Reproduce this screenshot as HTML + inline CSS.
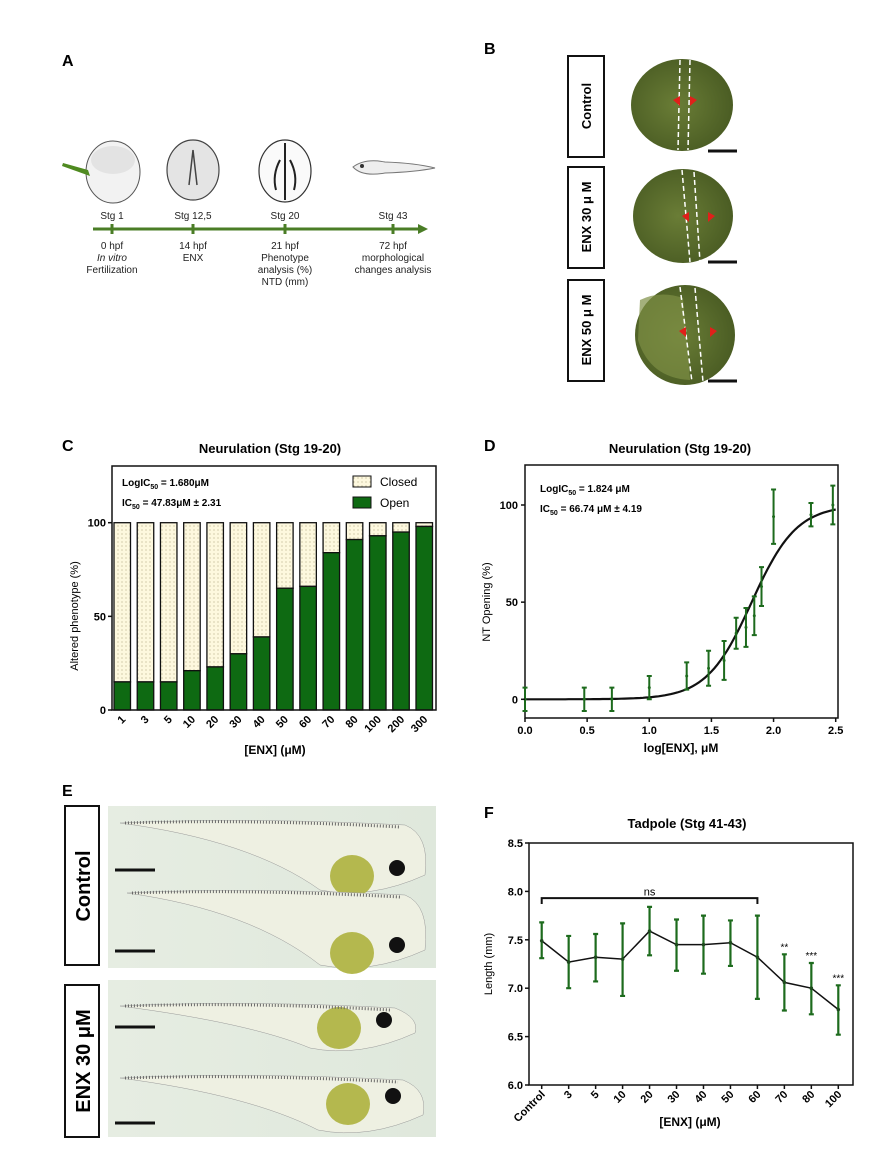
<!DOCTYPE html>
<html><head><meta charset="utf-8"><style>
html,body{margin:0;padding:0;background:#fff}
svg{display:block;font-family:"Liberation Sans",sans-serif}
</style></head><body>
<svg id="fig" width="880" height="1161" viewBox="0 0 880 1161" xmlns="http://www.w3.org/2000/svg">
<defs>
<pattern id="dots" width="4" height="4" patternUnits="userSpaceOnUse"><rect width="4" height="4" fill="#fdf8de"/><circle cx="2" cy="2" r="0.6" fill="#b8b08a"/></pattern>
<radialGradient id="emb" cx="0.45" cy="0.5" r="0.6"><stop offset="0" stop-color="#6a7d36"/><stop offset="1" stop-color="#485a22"/></radialGradient>
<linearGradient id="photo" x1="0" x2="1"><stop offset="0" stop-color="#e6ede2"/><stop offset="1" stop-color="#dfe8dc"/></linearGradient>
</defs>
<g font-weight="bold" font-size="16">
<text x="62" y="66">A</text>
<text x="484" y="54">B</text>
<text x="62" y="451">C</text>
<text x="484" y="451">D</text>
<text x="62" y="796">E</text>
<text x="484" y="818">F</text>
</g>

<!-- Panel A -->
<g>
<ellipse cx="113" cy="172" rx="27" ry="31" fill="#f2f2f2" stroke="#555" stroke-width="1"/>
<ellipse cx="113" cy="160" rx="22" ry="14" fill="#d8d8d8" opacity="0.6"/>
<path d="M63 163 L88 170 L90 176 L62 166Z" fill="#4f8a20"/>
<ellipse cx="193" cy="170" rx="26" ry="30" fill="#e4e4e4" stroke="#444" stroke-width="1.2"/>
<path d="M193 150 L189 185 M193 150 L197 185" stroke="#444" stroke-width="1.5"/>
<ellipse cx="285" cy="171" rx="26" ry="31" fill="#fafafa" stroke="#333" stroke-width="1.2"/>
<path d="M285 143 L285 200 M280 160 Q272 175 276 190 M290 160 Q298 175 294 190" stroke="#222" stroke-width="2" fill="none"/>
<path d="M353 167 Q365 158 385 162 Q415 163 435 168 Q415 172 385 173 Q362 177 353 167Z" fill="#eee" stroke="#777"/>
<circle cx="362" cy="166" r="2" fill="#333"/>
<line x1="93" y1="229" x2="420" y2="229" stroke="#4a7d26" stroke-width="3"/>
<polygon points="418,224 428,229 418,234" fill="#4a7d26"/>
<g stroke="#4a7d26" stroke-width="3"><line x1="112" y1="224" x2="112" y2="234"/><line x1="193" y1="224" x2="193" y2="234"/><line x1="285" y1="224" x2="285" y2="234"/><line x1="393" y1="224" x2="393" y2="234"/></g>
<g font-size="10" text-anchor="middle" fill="#222">
<text x="112" y="219">Stg 1</text><text x="193" y="219">Stg 12,5</text><text x="285" y="219">Stg 20</text><text x="393" y="219">Stg 43</text>
<text x="112" y="249">0 hpf</text><text x="112" y="261" font-style="italic">In vitro</text><text x="112" y="273">Fertilization</text>
<text x="193" y="249">14 hpf</text><text x="193" y="261">ENX</text>
<text x="285" y="249">21 hpf</text><text x="285" y="261">Phenotype</text><text x="285" y="273">analysis (%)</text><text x="285" y="285">NTD (mm)</text>
<text x="393" y="249">72 hpf</text><text x="393" y="261">morphological</text><text x="393" y="273">changes analysis</text>
</g>
</g>

<!-- Panel B -->
<g>
<g fill="none" stroke="#111" stroke-width="2">
<rect x="568" y="56" width="36" height="101"/>
<rect x="568" y="167" width="36" height="101"/>
<rect x="568" y="280" width="36" height="101"/>
</g>
<g font-size="13" font-weight="bold" text-anchor="middle">
<text transform="translate(591,106) rotate(-90)">Control</text>
<text transform="translate(591,217) rotate(-90)">ENX 30 μ M</text>
<text transform="translate(591,330) rotate(-90)">ENX 50 μ M</text>
</g>
<ellipse cx="682" cy="105" rx="51" ry="46" fill="url(#emb)"/>
<ellipse cx="683" cy="216" rx="50" ry="47" fill="url(#emb)"/>
<ellipse cx="685" cy="335" rx="50" ry="50" fill="url(#emb)"/>
<path d="M640 300 Q660 290 683 298 L690 380 Q650 378 638 340Z" fill="#7d8f45" opacity="0.7"/>
<g stroke="#fff" stroke-width="1.5" stroke-dasharray="5,3" fill="none">
<path d="M680 60 L678 150 M690 60 L688 150"/>
<path d="M682 170 L690 262 M694 172 L700 262"/>
<path d="M680 287 L692 382 M695 288 L703 382"/>
</g>
<g fill="#e0201a">
<polygon points="673,100 680,96 680,106"/><polygon points="697,100 690,96 690,106"/>
<polygon points="682,216 689,212 689,222"/><polygon points="715,216 708,212 708,222"/>
<polygon points="679,331 686,327 686,337"/><polygon points="717,331 710,327 710,337"/>
</g>
<g stroke="#111" stroke-width="3"><line x1="708" y1="151" x2="737" y2="151"/><line x1="708" y1="262" x2="737" y2="262"/><line x1="708" y1="381" x2="737" y2="381"/></g>
</g>

<!-- Panel C -->
<g id="chartC">
<text x="270" y="453" text-anchor="middle" font-size="13" font-weight="bold">Neurulation (Stg 19-20)</text>
<text x="122" y="486" font-size="10" font-weight="bold">LogIC<tspan font-size="7" dy="3">50</tspan><tspan dy="-3"> = 1.680μM</tspan></text>
<text x="122" y="506" font-size="10" font-weight="bold">IC<tspan font-size="7" dy="3">50</tspan><tspan dy="-3"> = 47.83μM ± 2.31</tspan></text>
<rect x="353" y="476" width="18" height="11" fill="url(#dots)" stroke="#111"/>
<text x="380" y="486" font-size="12">Closed</text>
<rect x="353" y="497" width="18" height="11" fill="#0e6a12" stroke="#111"/>
<text x="380" y="507" font-size="12">Open</text>
<text transform="translate(78,616) rotate(-90)" text-anchor="middle" font-size="11">Altered phenotype (%)</text>
<text x="275" y="754" text-anchor="middle" font-size="12" font-weight="bold">[ENX] (μM)</text>
</g>

<!-- Panel D -->
<g id="chartD">
<text x="680" y="453" text-anchor="middle" font-size="13" font-weight="bold">Neurulation (Stg 19-20)</text>
<text x="540" y="492" font-size="10" font-weight="bold">LogIC<tspan font-size="7" dy="3">50</tspan><tspan dy="-3"> = 1.824 μM</tspan></text>
<text x="540" y="512" font-size="10" font-weight="bold">IC<tspan font-size="7" dy="3">50</tspan><tspan dy="-3"> = 66.74 μM ± 4.19</tspan></text>
<text transform="translate(490,602) rotate(-90)" text-anchor="middle" font-size="11">NT Opening (%)</text>
<text x="681" y="752" text-anchor="middle" font-size="12" font-weight="bold">log[ENX], μM</text>
</g>

<!-- Panel E -->
<g>
<rect x="65" y="806" width="34" height="159" fill="none" stroke="#111" stroke-width="2"/>
<rect x="65" y="985" width="34" height="152" fill="none" stroke="#111" stroke-width="2"/>
<text transform="translate(90,886) rotate(-90)" text-anchor="middle" font-size="20" font-weight="bold">Control</text>
<text transform="translate(90,1061) rotate(-90)" text-anchor="middle" font-size="20" font-weight="bold">ENX 30 μM</text>
<rect x="108" y="806" width="328" height="162" fill="url(#photo)"/>
<rect x="108" y="980" width="328" height="157" fill="url(#photo)"/>
<g id="tads"></g>
<g stroke="#111" stroke-width="3">
<line x1="115" y1="870" x2="155" y2="870"/><line x1="115" y1="951" x2="155" y2="951"/>
<line x1="115" y1="1027" x2="155" y2="1027"/><line x1="115" y1="1123" x2="155" y2="1123"/>
</g>
</g>

<!-- Panel F -->
<g id="chartF">
<text x="687" y="828" text-anchor="middle" font-size="13" font-weight="bold">Tadpole (Stg 41-43)</text>
<text transform="translate(492,964) rotate(-90)" text-anchor="middle" font-size="11">Length (mm)</text>
<text x="690" y="1126" text-anchor="middle" font-size="12" font-weight="bold">[ENX] (μM)</text>
</g>
</svg>
<script>
const NS='http://www.w3.org/2000/svg';
function mk(parent,tag,attrs,txt){const e=document.createElementNS(NS,tag);for(const k in attrs)e.setAttribute(k,attrs[k]);if(txt!==undefined)e.textContent=txt;parent.appendChild(e);return e;}

// ---- Panel C data ----
const cCategories=['1','3','5','10','20','30','40','50','60','70','80','100','200','300'];
const cOpen=[15,15,15,21,23,30,39,65,66,84,91,93,95,98];
const cTicks=[0,50,100];
// ---- Panel D data ----
const dLogX=[0,0.477,0.699,1,1.301,1.477,1.602,1.699,1.778,1.845,1.903,2,2.301,2.477];
const dMean=[0,0,0,6,12,16,20,34,37,43,58,94,95,100];
const dErr=[6,6,6,6,7,9,10,8,10,10,10,14,6,10];
const dLogIC50=[1.824];
const dHill=[2.4];
const dXTicks=[0,0.5,1.0,1.5,2.0,2.5];
const dYTicks=[0,50,100];
// ---- Panel F data ----
const fCategories=['Control','3','5','10','20','30','40','50','60','70','80','100'];
const fMean=[7.49,7.27,7.32,7.30,7.59,7.45,7.45,7.47,7.32,7.06,7.00,6.78];
const fUpper=[7.68,7.54,7.56,7.67,7.84,7.71,7.75,7.70,7.75,7.35,7.26,7.03];
const fLower=[7.31,7.00,7.07,6.92,7.34,7.18,7.15,7.23,6.89,6.77,6.73,6.52];
const fStars=['','','','','','','','','','**','***','***'];
const fYTicks=[6.0,6.5,7.0,7.5,8.0,8.5];

// Panel C
(function(){
const g=document.getElementById('chartC');
const L=112,R=436,T=466,B=710;
const y=v=>B-(v/100)*187.3;
const x0=114,pitch=(416-114)/13,bw=16.5;
cCategories.forEach((c,i)=>{
 const x=x0+i*pitch;
 const cl=mk(g,'rect',{x:x,y:y(100),width:bw,height:y(cOpen[i])-y(100),fill:'url(#dots)',stroke:'#111','stroke-width':1.3});
 
 
 const op=mk(g,'rect',{x:x,y:y(cOpen[i]),width:bw,height:B-y(cOpen[i]),fill:'#0e6a12',stroke:'#111','stroke-width':1.3});
 
 
 const t=mk(g,'text',{transform:`translate(${x+bw/2+4},${B+10}) rotate(-45)`,'text-anchor':'end','font-size':11,'font-weight':'bold'},c);
 
 
});
mk(g,'rect',{x:L,y:T,width:R-L,height:B-T,fill:'none',stroke:'#111','stroke-width':1.5});
cTicks.forEach(v=>{mk(g,'line',{x1:L-4,x2:L,y1:y(v),y2:y(v),stroke:'#111','stroke-width':1.5});
 const t=mk(g,'text',{x:L-6,y:y(v)+4,'text-anchor':'end','font-size':11,'font-weight':'bold'},String(v));
 
 });
})();

// Panel D
(function(){
const g=document.getElementById('chartD');
const L=525,R=838,T=465,B=718;
const x=v=>525+v/2.5*310.7;
const y=v=>699.3-v*1.943;
mk(g,'rect',{x:L,y:T,width:R-L,height:B-T,fill:'none',stroke:'#111','stroke-width':1.5});
let d='';
for(let i=0;i<=100;i++){const lx=i/100*2.5;const v=100/(1+Math.pow(10,(dLogIC50[0]-lx)*dHill[0]));d+=(i?'L':'M')+x(lx).toFixed(1)+' '+y(v).toFixed(1);}
const c=mk(g,'path',{d:d,fill:'none',stroke:'#111','stroke-width':2.2});


dLogX.forEach((lx,i)=>{
 const px=x(lx),t=y(dMean[i]+dErr[i]),b=y(dMean[i]-dErr[i]);
 const e=mk(g,'path',{d:`M${px} ${t}V${b}M${px-2.5} ${t}H${px+2.5}M${px-2.5} ${b}H${px+2.5}`,stroke:'#1d6b1d','stroke-width':2,fill:'none'});
 
 
 const p=mk(g,'circle',{cx:px,cy:y(dMean[i]),r:1.5,fill:'#1d6b1d'});
 
 
});
dXTicks.forEach(v=>{mk(g,'line',{x1:x(v),x2:x(v),y1:B,y2:B+4,stroke:'#111','stroke-width':1.5});
 const t=mk(g,'text',{x:x(v),y:B+16,'text-anchor':'middle','font-size':11,'font-weight':'bold'},v.toFixed(1));
 
 });
dYTicks.forEach(v=>{mk(g,'line',{x1:L-4,x2:L,y1:y(v),y2:y(v),stroke:'#111','stroke-width':1.5});
 const t=mk(g,'text',{x:L-7,y:y(v)+4,'text-anchor':'end','font-size':11,'font-weight':'bold'},String(v));
 
 });
})();

// Panel F
(function(){
const g=document.getElementById('chartF');
const L=529,R=853,T=843,B=1085;
const y=v=>B-(v-6)/2.5*(B-T);
const x=i=>541.7+i*(838.3-541.7)/11;
mk(g,'rect',{x:L,y:T,width:R-L,height:B-T,fill:'none',stroke:'#111','stroke-width':1.5});
fYTicks.forEach(v=>{mk(g,'line',{x1:L-4,x2:L,y1:y(v),y2:y(v),stroke:'#111','stroke-width':1.5});
 const t=mk(g,'text',{x:L-6,y:y(v)+4,'text-anchor':'end','font-size':11,'font-weight':'bold'},v.toFixed(1));
 
 });
const br=mk(g,'path',{d:`M${x(0)} ${y(7.87)}V${y(7.93)}H${x(8)}V${y(7.87)}`,stroke:'#111','stroke-width':2,fill:'none'});


const ns=mk(g,'text',{x:(x(0)+x(8))/2,y:y(7.96),'text-anchor':'middle','font-size':11},'ns');


fCategories.forEach((c,i)=>{
 const px=x(i),t=y(fUpper[i]),b=y(fLower[i]);
 const e=mk(g,'path',{d:`M${px} ${t}V${b}M${px-2.5} ${t}H${px+2.5}M${px-2.5} ${b}H${px+2.5}`,stroke:'#1d6b1d','stroke-width':2.2,fill:'none'});
 
 
 mk(g,'line',{x1:px,x2:px,y1:B,y2:B+4,stroke:'#111','stroke-width':1.5});
 const tl=mk(g,'text',{transform:`translate(${px+4},${B+10}) rotate(-45)`,'text-anchor':'end','font-size':11,'font-weight':'bold'},c);
 
 
 if(fStars[i]){const s=mk(g,'text',{x:px,y:t-4,'text-anchor':'middle','font-size':10},fStars[i]);
  
  }
});
const pts=fMean.map((v,i)=>x(i)+','+y(v)).join(' ');
const ln=mk(g,'polyline',{points:pts,fill:'none',stroke:'#111','stroke-width':1.5});


fMean.forEach((v,i)=>{const p=mk(g,'circle',{cx:x(i),cy:y(v),r:1.8,fill:'#1d4a1d'});
 
 });
})();

// Panel E tadpole illustrations
(function(){
const g=document.getElementById('tads');
const tads=[[115,815,430,870,397,868],[122,885,430,945,397,945],[115,998,420,1028,384,1020],[115,1070,428,1110,393,1096]];
tads.forEach((t,i)=>{
 const [x1,y1,x2,cy,ex,ey]=t;
 mk(g,'path',{d:`M${x1+5} ${y1+8} Q250 ${y1+2} ${x2-25} ${y1+10} Q${x2} ${y1+20} ${x2-5} ${cy+5} Q${x2-60} ${cy+30} ${x2-110} ${cy+20} Q250 ${y1+25} ${x1+5} ${y1+8}Z`,fill:'#eef0e2',stroke:'#999','stroke-width':0.5});
 mk(g,'ellipse',{cx:ex-45,cy:ey+8,rx:22,ry:21,fill:'#b4b84e'});
 mk(g,'circle',{cx:ex,cy:ey,r:8,fill:'#111'});
 mk(g,'path',{d:`M${x1+10} ${y1+8} Q250 ${y1+4} ${x2-30} ${y1+12}`,stroke:'#666','stroke-width':3,'stroke-dasharray':'1,2',fill:'none'});
});
})();
</script>
</body></html>
